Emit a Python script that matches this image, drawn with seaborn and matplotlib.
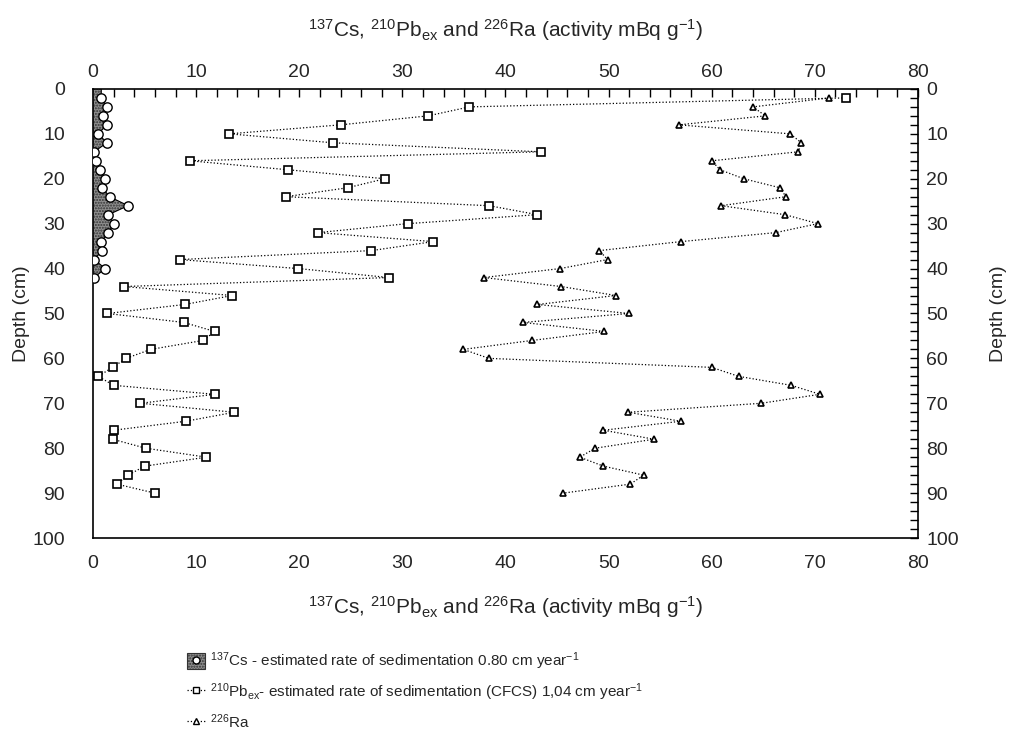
import numpy as np
import pandas as pd
import seaborn as sns
import matplotlib.pyplot as plt
from matplotlib.patches import Patch
from matplotlib.lines import Line2D
from matplotlib.ticker import MultipleLocator, FixedLocator

# depth profiles (cm)
cs_depth = [0, 2, 4, 6, 8, 10, 12, 14, 16, 18, 20, 22, 24, 26, 28, 30, 32, 34, 36, 38, 40, 42]
cs_val = [0.8, 0.8, 1.35, 1.0, 1.35, 0.5, 1.35, 0.1, 0.25, 0.7, 1.2, 0.9, 1.6, 3.4, 1.5, 2.0,
          1.5, 0.8, 0.9, 0.1, 1.2, 0.1]

pb_depth = list(range(2, 92, 2))
pb_val = [73.0, 36.5, 32.5, 24.0, 13.2, 23.3, 43.4, 9.4, 18.9, 28.3, 24.7, 18.7, 38.4, 43.1,
          30.5, 21.8, 33.0, 27.0, 8.4, 19.9, 28.7, 3.0, 13.5, 8.9, 1.4, 8.8, 11.8, 10.7, 5.6,
          3.2, 1.9, 0.5, 2.0, 11.8, 4.6, 13.7, 9.0, 2.0, 1.9, 5.1, 11.0, 5.0, 3.4, 2.3, 6.0]

ra_depth = list(range(2, 92, 2))
ra_val = [71.4, 64.0, 65.2, 56.8, 67.6, 68.7, 68.4, 60.0, 60.8, 63.1, 66.6, 67.2, 60.9, 67.1,
          70.3, 66.2, 57.0, 49.1, 49.9, 45.3, 37.9, 45.4, 50.7, 43.1, 52.0, 41.7, 49.6, 42.6,
          35.9, 38.4, 60.0, 62.6, 67.7, 70.5, 64.8, 51.9, 57.0, 49.5, 54.4, 48.7, 47.2, 49.5,
          53.4, 52.1, 45.6]

x_ticks = [0, 10, 20, 30, 40, 50, 60, 70, 80]
y_ticks = [0, 10, 20, 30, 40, 50, 60, 70, 80, 90, 100]

xlab = (r'$\mathregular{^{137}}$Cs, $\mathregular{^{210}}$Pb$\mathregular{_{ex}}$ and '
        r'$\mathregular{^{226}}$Ra (activity mBq g$\mathregular{^{-1}}$)')

sns.set_style('white')
plt.rcParams['font.family'] = ['Liberation Sans', 'DejaVu Sans']

fig = plt.figure(figsize=(10.11, 7.51), dpi=100)
ax = fig.add_axes([0.092, 0.2836, 0.816, 0.598])

cs = pd.DataFrame({'depth': cs_depth, 'val': cs_val})
pb = pd.DataFrame({'depth': pb_depth, 'val': pb_val})
ra = pd.DataFrame({'depth': ra_depth, 'val': ra_val})

ax.fill_betweenx(cs['depth'], 0, cs['val'], facecolor='#8e8e8e', edgecolor='#333333',
                 hatch='......', linewidth=0, zorder=2)
ax.plot(cs['val'], cs['depth'], color='black', lw=0.8, zorder=3)
sns.scatterplot(data=cs.iloc[1:], x='val', y='depth', marker='o', s=45, color='white',
                edgecolor='black', linewidth=1, zorder=4, ax=ax)

sns.lineplot(data=pb, x='val', y='depth', sort=False, estimator=None, color='black',
             lw=0.9, ls=':', marker='s', markersize=6, markerfacecolor='white',
             markeredgecolor='black', markeredgewidth=1.2, ax=ax)
sns.lineplot(data=ra, x='val', y='depth', sort=False, estimator=None, color='black',
             lw=0.9, ls=':', marker='^', markersize=5, markerfacecolor='white',
             markeredgecolor='black', markeredgewidth=1.2, ax=ax)

ax.set_xlim(0, 80)
ax.set_ylim(100, 0)
ax.xaxis.set_major_locator(FixedLocator(x_ticks))
ax.xaxis.set_minor_locator(MultipleLocator(2))
ax.yaxis.set_major_locator(FixedLocator(y_ticks))
ax.yaxis.set_minor_locator(MultipleLocator(2))
ax.tick_params(which='both', direction='in', length=6, width=1, color='black',
               top=True, right=True, labelsize=14)
ax.tick_params(axis='y', pad=20)
ax.tick_params(axis='x', pad=12)
for s in ax.spines.values():
    s.set_color('black')
    s.set_linewidth(1.2)

ax.set_xlabel(xlab, fontsize=15, labelpad=16)
ax.set_ylabel('Depth (cm)', fontsize=14, labelpad=2)

top = ax.secondary_xaxis('top')
top.xaxis.set_major_locator(FixedLocator(x_ticks))
top.tick_params(length=0, labelsize=14, pad=6)
top.set_xlabel(xlab, fontsize=15, labelpad=19)
right = ax.secondary_yaxis('right')
right.yaxis.set_major_locator(FixedLocator(y_ticks))
right.tick_params(length=0, labelsize=14, pad=6)
right.set_ylabel('Depth (cm)', fontsize=14, labelpad=22)
for sec in (top, right):
    for s in sec.spines.values():
        s.set_visible(False)

h1 = (Patch(facecolor='#8e8e8e', edgecolor='#333333', hatch='......', linewidth=0.8),
      Line2D([], [], ls='', marker='o', markersize=5, markerfacecolor='white',
             markeredgecolor='black'))
h2 = Line2D([], [], color='black', lw=0.9, ls=':', marker='s', markersize=4.5,
            markerfacecolor='white', markeredgecolor='black')
h3 = Line2D([], [], color='black', lw=0.9, ls=':', marker='^', markersize=4,
            markerfacecolor='white', markeredgecolor='black')
labels = [r'$\mathregular{^{137}}$Cs - estimated rate of sedimentation 0.80 cm year$\mathregular{^{-1}}$',
          r'$\mathregular{^{210}}$Pb$\mathregular{_{ex}}$- estimated rate of sedimentation (CFCS) 1,04 cm year$\mathregular{^{-1}}$',
          r'$\mathregular{^{226}}$Ra']
leg = fig.legend([h1, h2, h3], labels, loc='upper left', bbox_to_anchor=(0.171, 0.152),
                 frameon=False, handlelength=1.2, handleheight=1.2, handletextpad=0.3,
                 labelspacing=0.6, prop={'family': ['Liberation Sans', 'DejaVu Sans'], 'size': 11})

fig.savefig('out.png', dpi=100)
